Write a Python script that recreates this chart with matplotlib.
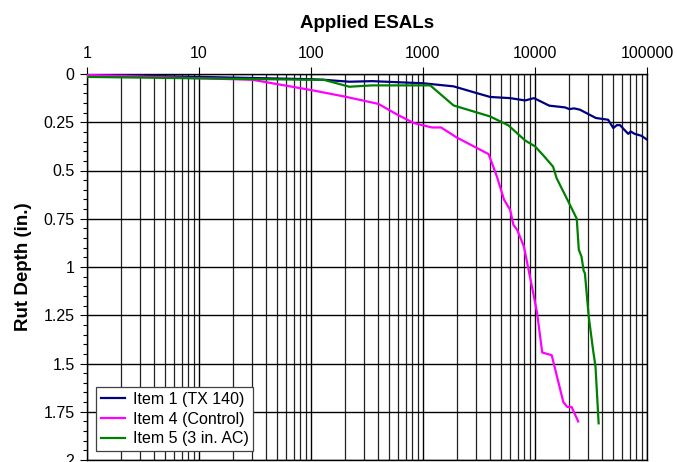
import matplotlib
matplotlib.use("Agg")
import matplotlib.pyplot as plt
from matplotlib.ticker import LogLocator, FixedLocator, FuncFormatter, MultipleLocator

plt.rcParams["font.family"] = ["Liberation Sans", "DejaVu Sans"]

# ── data ─────────────────────────────────────────────────────────────────────
item1_esal = [1, 10, 100, 130, 220, 350, 1000, 1875, 3020, 3975, 6000, 8150,
              9800, 13400, 18500, 20300, 22300, 25200, 30000, 35000, 45000,
              50000, 53800, 57500, 62700, 68000, 71500, 77500, 89000, 100000]
item1_rut = [0.005, 0.015, 0.027, 0.03, 0.04, 0.037, 0.048, 0.064, 0.099,
             0.119, 0.125, 0.137, 0.125, 0.164, 0.173, 0.182, 0.178, 0.185,
             0.208, 0.228, 0.237, 0.28, 0.265, 0.265, 0.289, 0.31, 0.298,
             0.31, 0.32, 0.34]

item4_esal = [1, 30, 100, 200, 400, 587, 826, 1200, 1450, 2000, 3850, 4560,
              5300, 6000, 6420, 6940, 7960, 9660, 10450, 11600, 14100, 15600,
              17900, 19400, 21200, 24300]
item4_rut = [0.005, 0.03, 0.083, 0.117, 0.155, 0.21, 0.254, 0.277, 0.277,
             0.329, 0.415, 0.53, 0.652, 0.704, 0.782, 0.808, 0.894, 1.137,
             1.24, 1.443, 1.457, 1.56, 1.70, 1.725, 1.725, 1.80]

item5_esal = [1, 100, 130, 220, 350, 1160, 1875, 3975, 5780, 8150, 10000,
              11800, 14500, 15600, 19800, 23600, 24600, 26000, 27200, 27900,
              30200, 33000, 34700, 37000]
item5_rut = [0.015, 0.03, 0.03, 0.066, 0.059, 0.059, 0.163, 0.22, 0.266,
             0.344, 0.375, 0.42, 0.48, 0.54, 0.66, 0.75, 0.91, 0.946, 1.02,
             1.033, 1.258, 1.43, 1.517, 1.81]

series = [
    ("Item 1 (TX 140)", item1_esal, item1_rut, "#000080"),
    ("Item 4 (Control)", item4_esal, item4_rut, "#FF00FF"),
    ("Item 5 (3 in. AC)", item5_esal, item5_rut, "#008000"),
]

y_ticks = [0, 0.25, 0.5, 0.75, 1, 1.25, 1.5, 1.75, 2]
y_labels = ["0", "0.25", "0.5", "0.75", "1", "1.25", "1.5", "1.75", "2"]

# ── figure ───────────────────────────────────────────────────────────────────
W, H = 677, 462
fig = plt.figure(figsize=(W / 100, H / 100), dpi=100)
ax = fig.add_axes([87 / W, 2 / H, 560 / W, 386 / H])

for label, x, y, color in series:
    ax.plot(x, y, color=color, lw=1.6, label=label, zorder=3)

ax.set_xscale("log")
ax.set_xlim(1, 100000)
ax.set_ylim(2, 0)

ax.xaxis.tick_top()
ax.xaxis.set_label_position("top")
ax.xaxis.set_major_locator(LogLocator(base=10, numticks=10))
ax.xaxis.set_minor_locator(LogLocator(base=10, subs=range(2, 10), numticks=20))
ax.xaxis.set_major_formatter(FuncFormatter(lambda v, p: f"{v:.0f}"))
ax.xaxis.set_minor_formatter(FuncFormatter(lambda v, p: ""))

ax.yaxis.set_major_locator(FixedLocator(y_ticks))
ax.set_yticklabels(y_labels)
ax.yaxis.set_minor_locator(MultipleLocator(0.05))

ax.tick_params(axis="both", which="major", labelsize=11.5, direction="out",
               length=5, width=0.8, color="black", pad=4)
ax.tick_params(axis="x", which="minor", length=0)
ax.tick_params(axis="y", which="minor", length=3, width=0.8, direction="out")

ax.grid(True, which="major", axis="both", color="black", lw=1.0)
ax.grid(True, which="minor", axis="x", color="#222222", lw=0.9)

for s in ax.spines.values():
    s.set_color("black")
    s.set_linewidth(1.0)

ax.set_xlabel("Applied ESALs", fontsize=13.5, fontweight="bold", labelpad=13)
ax.set_ylabel("Rut Depth (in.)", fontsize=13.5, fontweight="bold", labelpad=8)

leg = ax.legend(loc="lower left", bbox_to_anchor=(0.016, 0.023),
                borderaxespad=0, fontsize=11.5, fancybox=False, framealpha=1,
                edgecolor="#404040", handlelength=1.5, handletextpad=0.5,
                borderpad=0.3, labelspacing=0.3)
leg.get_frame().set_linewidth(0.9)

fig.savefig("out.png", dpi=100)
